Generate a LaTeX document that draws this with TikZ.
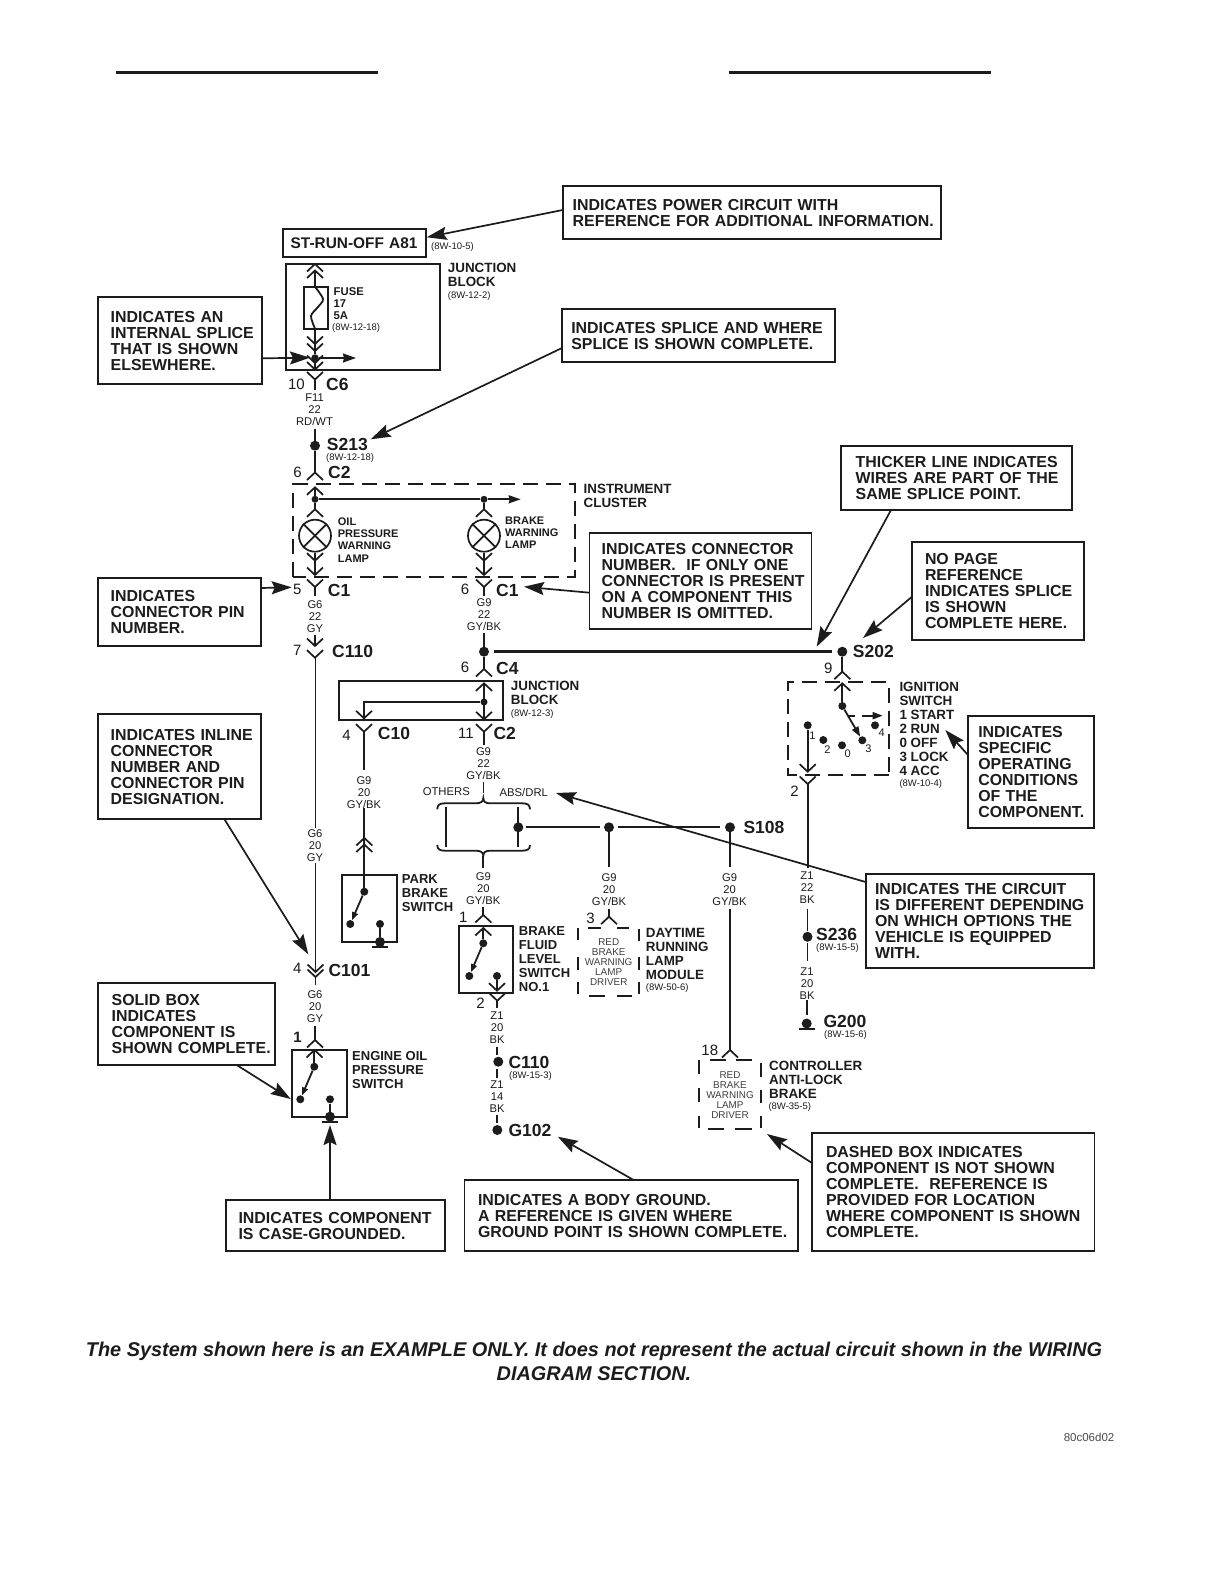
\documentclass[tikz,border=0pt]{standalone}
\usepackage{fontspec}
\setmainfont{Liberation Sans}
\usetikzlibrary{arrows.meta}
\definecolor{ink}{HTML}{1C1C1C}
\tikzset{
  calloutbox/.style={draw=ink,line width=1.7pt,inner sep=0pt,align=left,text=ink,font=\fontsize{15.9}{16}\selectfont\bfseries},
  callarrow/.style={draw=ink,line width=1.7pt,-{Stealth[length=20pt,width=13pt,inset=3pt]}},
  wire/.style={draw=ink,line width=1.8pt},
  thickwire/.style={draw=ink,line width=2.6pt},
  chev/.style={draw=ink,line width=1.7pt},
  dot/.style={circle,fill=ink,inner sep=0pt,minimum size=8pt},
  bigdot/.style={circle,fill=ink,inner sep=0pt,minimum size=10pt},
  solidbox/.style={draw=ink,line width=2pt},
  dashbox/.style={draw=ink,line width=2pt,dash pattern=on 15pt off 8pt},
  wl/.style={align=center,inner sep=0pt,text=ink,font=\fontsize{11.2}{12}\selectfont},
  innertext/.style={align=center,inner sep=0pt,text=black!75,font=\fontsize{9.9}{10}\selectfont},
  refnote/.style={anchor=west,inner sep=0pt,text=ink,font=\fontsize{9.5}{10}\selectfont},
  conn/.style={anchor=west,inner sep=0pt,text=ink,font=\fontsize{17.5}{17}\selectfont\bfseries},
  pinno/.style={anchor=east,inner sep=0pt,text=ink,font=\fontsize{15}{15}\selectfont},
  comp/.style={anchor=west,align=left,inner sep=0pt,text=ink,font=\fontsize{13.4}{14}\selectfont\bfseries},
  compsm/.style={anchor=west,align=left,inner sep=0pt,text=ink,font=\fontsize{11}{12.2}\selectfont\bfseries},
  posno/.style={inner sep=0pt,text=ink,font=\fontsize{11}{11}\selectfont},
}
% name, x1, y1, x2, y2, text-left, lines
\newcommand\callout[7]{%
  \pgfmathsetmacro\cbw{#4-#2}\pgfmathsetmacro\cbh{#5-#3}%
  \pgfmathsetmacro\cbm{#6-#2}%
  \node[calloutbox,text width=\cbw pt,minimum height=\cbh pt] (#1) at ({(#2+#4)/2},{(#3+#5)/2})
    {\noindent\hspace*{\cbm pt}\raisebox{-7pt}[0pt][0pt]{\begin{tabular}[c]{@{}l@{}}#7\end{tabular}}};}
\newcommand\chup[2]{\draw[chev] ({#1-8},{#2+7.5}) -- (#1,#2) -- ({#1+8},{#2+7.5});}
\newcommand\chdn[2]{\draw[chev] ({#1-8},{#2-7.5}) -- (#1,#2) -- ({#1+8},{#2-7.5});}
\begin{document}
\begin{tikzpicture}[x=1pt,y=-1pt]
\useasboundingbox (0,0) rectangle (1224,1584);
\fill[white] (0,0) rectangle (1224,1584);
% top rules
\coordinate (ra) at (116,72.7); \coordinate (rb) at (377.5,72.7);
\coordinate (rc) at (729,72.7); \coordinate (rd) at (991.4,72.7);
\draw[draw=ink,line width=3pt] (ra) -- (rb);
\draw[draw=ink,line width=3pt] (rc) -- (rd);

% ---------- callouts
\callout{cPower}{562.7}{186}{941}{239}{572.7}{INDICATES POWER CIRCUIT WITH\\REFERENCE FOR ADDITIONAL INFORMATION.}
\callout{cSplice}{562}{308.7}{835}{361.7}{571.3}{INDICATES SPLICE AND WHERE\\SPLICE IS SHOWN COMPLETE.}
\callout{cInternal}{98}{297.3}{262}{383.7}{110.7}{INDICATES AN\\INTERNAL SPLICE\\THAT IS SHOWN\\ELSEWHERE.}
\callout{cThick}{840.7}{445.7}{1072}{510}{855.7}{THICKER LINE INDICATES\\WIRES ARE PART OF THE\\SAME SPLICE POINT.}
\callout{cConn}{589.5}{533}{811.6}{629}{601.7}{INDICATES CONNECTOR\\NUMBER.\ \ IF ONLY ONE\\CONNECTOR IS PRESENT\\ON A COMPONENT THIS\\NUMBER IS OMITTED.}
\callout{cNoPage}{912}{542}{1083.7}{639.7}{925}{NO PAGE\\REFERENCE\\INDICATES SPLICE\\IS SHOWN\\COMPLETE HERE.}
\callout{cPin}{98}{578}{260.7}{646}{110.7}{INDICATES\\CONNECTOR PIN\\NUMBER.}
\callout{cInline}{98}{714}{260.7}{819}{110.7}{INDICATES INLINE\\CONNECTOR\\NUMBER AND\\CONNECTOR PIN\\DESIGNATION.}
\callout{cSpecific}{968}{715.7}{1094}{828}{978.3}{INDICATES\\SPECIFIC\\OPERATING\\CONDITIONS\\OF THE\\COMPONENT.}
\callout{cCircuit}{865.7}{874}{1094}{968}{875}{INDICATES THE CIRCUIT\\IS DIFFERENT DEPENDING\\ON WHICH OPTIONS THE\\VEHICLE IS EQUIPPED\\WITH.}
\callout{cSolid}{98}{982.7}{275.3}{1065}{111.7}{SOLID BOX\\INDICATES\\COMPONENT IS\\SHOWN COMPLETE.}
\callout{cDashed}{812}{1133}{1094.5}{1251}{826}{DASHED BOX INDICATES\\COMPONENT IS NOT SHOWN\\COMPLETE.\ \ REFERENCE IS\\PROVIDED FOR LOCATION\\WHERE COMPONENT IS SHOWN\\COMPLETE.}
\callout{cBody}{464.5}{1180}{798}{1251}{478}{INDICATES A BODY GROUND.\\A REFERENCE IS GIVEN WHERE\\GROUND POINT IS SHOWN COMPLETE.}
\callout{cCase}{226}{1200}{445}{1251}{238.5}{INDICATES COMPONENT\\IS CASE-GROUNDED.}

% ---------- top power block
\callout{stBox}{282.7}{229.3}{425.7}{256.7}{290.7}{{\fontsize{15.4}{16}\selectfont ST-RUN-OFF A81}}
\node[refnote] (rA81) at (431,247) {(8W-10-5)};
\node[solidbox,minimum width=154.3pt,minimum height=106pt,inner sep=0pt] (jb1) at (362.85,316.5) {};
\node[comp] (jb1t) at (447.7,274.5) {JUNCTION\\BLOCK};
\node[refnote] (jb1r) at (447.7,296) {(8W-12-2)};
% fuse
\node[solidbox,line width=1.6pt,minimum width=24pt,minimum height=42pt,inner sep=0pt] (fuse) at (315.7,308) {};
\node[compsm,font=\fontsize{11.3}{12}\selectfont\bfseries] (fuset) at (333.5,304) {FUSE\\17\\5A};
\node[refnote] (fuser) at (332,328.5) {(8W-12-18)};
\draw[wire] plot[smooth] coordinates {(315.2,287) (323,299) (318,307) (311,316) (315.2,329)};
\chup{315}{264}\chup{315}{270.5}
\node[dot,minimum size=7.5pt] (spl1) at (315,358) {};
\coordinate (w1) at (315,270.5); \coordinate (w2) at (315,329);
\draw[wire] (w1) -- (fuse.north -| w1);
\draw[wire] (w2) -- (spl1);
\chdn{315}{344}\chdn{315}{351}\chdn{315}{363}\chdn{315}{369.5}
\coordinate (spl1e) at (356,358);
\coordinate (spl1b) at (315,369.5);
\draw[wire,-{Stealth[length=13pt,width=9pt,inset=1pt]}] (spl1) -- (spl1e);
\draw[wire] (spl1) -- (spl1b);
% C6
\chdn{315}{379.5}
\coordinate (c6) at (315,379.5); \coordinate (c6b) at (315,390);
\draw[wire] (c6) -- (c6b);
\node[pinno] (p10) at (305,384) {10};
\node[conn] (tC6) at (326,384) {C6};
\node[wl] (wF11) at (314.5,409.7) {F11\\22\\RD/WT};
\node[bigdot] (s213) at (315,445.7) {};
\coordinate (s213a) at (315,429);
\draw[wire] (s213a) -- (s213);
\node[conn] (tS213) at (326.7,444) {S213};
\node[refnote] (rS213) at (326,458) {(8W-12-18)};
\node[pinno] (p6a) at (302,472.7) {6};
\node[conn] (tC2) at (328,472.7) {C2};
\coordinate (c2t) at (315,472.5);
\draw[wire] (s213) -- (c2t);
\chup{315}{472.5}

% ---------- instrument cluster
\draw[dashbox] (293.3,576.7) -- (293.3,484.3) -- (575,484.3) -- (575,576.7) -- cycle;
\node[comp] (icT) at (583.5,495.5) {INSTRUMENT\\CLUSTER};
\chup{315}{487.3}
\node[dot,minimum size=7pt] (dA) at (315,499.3) {};
\node[dot,minimum size=7pt] (dB) at (484,499.3) {};
\coordinate (dBe) at (520.7,499.3); \coordinate (dAt) at (315,487.3);
\draw[wire] (dAt) -- (dA);
\draw[wire] (dA) -- (dB);
\draw[wire,-{Stealth[length=12pt,width=8pt,inset=1pt]}] (dB) -- (dBe);
\chup{315}{509.3}\chup{484}{509.3}
\coordinate (dAb) at (315,509.3); \coordinate (dBb) at (484,509.3);
\draw[wire] (dA) -- (dAb);
\draw[wire] (dB) -- (dBb);
\node[draw=ink,line width=1.7pt,circle,minimum size=32pt,inner sep=0pt] (lampA) at (315,535.7) {};
\node[draw=ink,line width=1.7pt,circle,minimum size=32pt,inner sep=0pt] (lampB) at (484,535.7) {};
\draw[wire] (lampA.north west) -- (lampA.south east);
\draw[wire] (lampA.north east) -- (lampA.south west);
\draw[wire] (lampB.north west) -- (lampB.south east);
\draw[wire] (lampB.north east) -- (lampB.south west);
\node[compsm] (tOil) at (337.7,540) {OIL\\PRESSURE\\WARNING\\LAMP};
\node[compsm] (tBrk) at (505,533) {BRAKE\\WARNING\\LAMP};
\coordinate (lAo) at (315,575); \coordinate (lBo) at (484,575);
\draw[wire] (lampA.south) -- (lAo);
\draw[wire] (lampB.south) -- (lBo);
\chdn{315}{560.7}\chdn{315}{575}\chdn{484}{560.7}\chdn{484}{575}
% C1s
\chdn{315}{587}\chdn{484}{587}
\coordinate (c1a) at (315,587); \coordinate (c1ab) at (315,596);
\coordinate (c1b) at (484,587); \coordinate (c1bb) at (484,596);
\draw[wire] (c1a) -- (c1ab);
\draw[wire] (c1b) -- (c1bb);
\node[pinno] (p5) at (301.7,589.3) {5};
\node[conn] (tC1a) at (327.7,590) {C1};
\node[pinno] (p6b) at (469.3,589.3) {6};
\node[conn] (tC1b) at (496,590) {C1};
\node[wl] (wG6a) at (315,617) {G6\\22\\GY};
\node[wl] (wG9a) at (484,614.7) {G9\\22\\GY/BK};
% C110
\chdn{315}{646}\chdn{315}{657.7}
\coordinate (c110a) at (315,635); \coordinate (c110b) at (315,646);
\draw[wire] (c110a) -- (c110b);
\node[pinno] (p7) at (301.7,650) {7};
\node[conn] (tC110a) at (332,651) {C110};
\coordinate (c110c) at (315.5,657.7); \coordinate (c110d) at (315.5,828);
\draw[wire] (c110c) -- (c110d);
\node[wl] (wG6b) at (315,845.7) {G6\\20\\GY};
\coordinate (c101a) at (315.5,863); \coordinate (c101b) at (315.5,972);
\draw[wire] (c101a) -- (c101b);
\chdn{315.5}{972}\chdn{315.5}{977}
\coordinate (c101c) at (315.5,977); \coordinate (c101d) at (315.5,985);
\draw[wire] (c101c) -- (c101d);
\node[pinno] (p4a) at (301.7,968) {4};
\node[conn] (tC101) at (328.3,970) {C101};
\node[wl] (wG6c) at (315,1006.7) {G6\\20\\GY};
\coordinate (e1a) at (315,1025.7); \coordinate (e1b) at (315,1040);
\draw[wire] (e1a) -- (e1b);
\chup{315}{1040}
\node[pinno,font=\fontsize{15}{15}\selectfont\bfseries] (p1a) at (302,1037) {1};

% engine oil pressure switch
\node[solidbox,minimum width=54.7pt,minimum height=66.7pt,inner sep=0pt] (eops) at (319.65,1083.35) {};
\chup{314.5}{1050}
\node[dot] (eA) at (314.3,1066.7) {};
\node[dot] (eB) at (300.3,1099.3) {};
\node[dot] (eC) at (330,1099.3) {};
\node[bigdot] (eG) at (330,1116.7) {};
\coordinate (eT) at (314.3,1050);
\coordinate (eL) at (321.7,1122); \coordinate (eR) at (337.7,1122);
\draw[wire] (eT) -- (eA);
\draw[wire,-{Stealth[length=8pt,width=6pt,inset=0pt]}] (eA) -- (eB);
\draw[wire] (eC) -- (eG);
\draw[draw=ink,line width=2.4pt] (eL) -- (eR);
\node[comp,font=\fontsize{13}{14}\selectfont\bfseries] (tEops) at (352,1069.7) {ENGINE OIL\\PRESSURE\\SWITCH};

% ---------- centre trunk
\node[bigdot] (nA) at (484,651.7) {};
\coordinate (nAa) at (484,633);
\draw[wire] (nAa) -- (nA);
\node[bigdot] (s202) at (842.3,651.7) {};
\coordinate (tkA) at (493.5,651.7); \coordinate (tkB) at (831.7,651.7);
\draw[thickwire] (tkA) -- (tkB);
\node[conn] (tS202) at (852.7,651.7) {S202};
\coordinate (c4) at (484,669);
\draw[wire] (nA) -- (c4);
\chup{484}{669}
\node[pinno] (p6c) at (469.3,667.7) {6};
\node[conn] (tC4) at (496,668) {C4};
% junction block 2
\node[solidbox,minimum width=164pt,minimum height=38.7pt,inner sep=0pt] (jb2) at (421.3,700.65) {};
\node[comp] (jb2t) at (510.7,692.5) {JUNCTION\\BLOCK};
\node[refnote] (jb2r) at (510.7,714.3) {(8W-12-3)};
\chup{484}{683.3}
\node[dot,minimum size=7pt] (jD) at (484,702) {};
\coordinate (jT) at (484,683.3); \coordinate (jB) at (484,719.3);
\coordinate (jL) at (364,702); \coordinate (jE) at (364,718.3);
\draw[wire] (jT) -- (jB);
\draw[draw=ink,line width=2.2pt] (jD) -- (jL) -- (jE);
\chdn{484}{719.3}\chdn{364}{718.3}
\chdn{364}{731.7}\chdn{484}{731.7}
\coordinate (c10a) at (364,731.7); \coordinate (c10b) at (364,770);
\coordinate (c2a) at (484,731.7); \coordinate (c2b) at (484,745);
\draw[wire] (c10a) -- (c10b);
\draw[wire] (c2a) -- (c2b);
\node[pinno] (p4b) at (351,735) {4};
\node[conn] (tC10) at (377.7,733.7) {C10};
\node[pinno] (p11) at (474,733.7) {11};
\node[conn] (tC2b) at (493.3,733.7) {C2};
\node[wl] (wG9b) at (483.5,763.7) {G9\\22\\GY/BK};
\node[wl] (wG9park) at (364,792.5) {G9\\20\\GY/BK};
% park brake
\coordinate (pkA) at (364.3,808); \coordinate (pkB) at (364.3,845);
\draw[wire] (pkA) -- (pkB);
\chup{364.3}{838}\chup{364.3}{844.5}
\node[solidbox,minimum width=54.7pt,minimum height=67.3pt,inner sep=0pt] (park) at (369.35,908.35) {};
\node[dot] (pA) at (364.3,891.7) {};
\node[dot] (pB) at (350.3,924) {};
\node[dot] (pC) at (380,924) {};
\node[bigdot] (pG) at (380,942) {};
\coordinate (pL) at (372,947); \coordinate (pR) at (388,947);
\draw[wire] (pkB) -- (pA);
\draw[wire,-{Stealth[length=8pt,width=6pt,inset=0pt]}] (pA) -- (pB);
\draw[wire] (pC) -- (pG);
\draw[draw=ink,line width=2.4pt] (pL) -- (pR);
\node[comp,font=\fontsize{13}{14}\selectfont\bfseries] (tPark) at (401.7,893.3) {PARK\\BRAKE\\SWITCH};

% options braces
\node[wl,font=\fontsize{11.3}{12}\selectfont] (tOthers) at (446.3,792) {OTHERS};
\node[wl,font=\fontsize{11.3}{12}\selectfont] (tAbs) at (523.8,792) {ABS/DRL};
\coordinate (brT) at (483.5,781.7); \coordinate (brTb) at (483.5,793.3);
\draw[wire] (brT) -- (brTb);
\draw[draw=ink,line width=1.8pt] (437.3,809.3) .. controls (437.3,804.5) and (440,803.3) .. (445,803.3) -- (476,803.3) .. controls (480,803.3) and (483.3,802) .. (483.3,798) .. controls (483.3,802) and (486,803.3) .. (490,803.3) -- (522,803.3) .. controls (527,803.3) and (530,804.5) .. (530,809.3);
\draw[draw=ink,line width=1.8pt] (437.3,845) .. controls (437.3,849.5) and (440,850.7) .. (445,850.7) -- (476,850.7) .. controls (480,850.7) and (483.3,852) .. (483.3,855.7) .. controls (483.3,852) and (486,850.7) .. (490,850.7) -- (522,850.7) .. controls (527,850.7) and (530,849.5) .. (530,845);
\coordinate (bLa) at (445.7,806.7); \coordinate (bLb) at (445.7,847.3);
\coordinate (bRa) at (518.3,806.7); \coordinate (bRb) at (518.3,847.3);
\draw[draw=ink,line width=2.4pt] (bLa) -- (bLb);
\draw[wire] (bRa) -- (bRb);
\node[bigdot] (bD) at (518.3,827.3) {};
\node[bigdot] (dDr) at (609,827.3) {};
\node[bigdot] (s108) at (730,827.3) {};
\coordinate (hA) at (526,827.3); \coordinate (hB) at (600,827.3);
\coordinate (hC) at (618.3,827.3); \coordinate (hD) at (720,827.3);
\draw[draw=ink,line width=2.2pt] (hA) -- (hB);
\draw[draw=ink,line width=2.2pt] (hC) -- (hD);
\node[conn] (tS108) at (743.3,827) {S108};

% brake fluid branch
\coordinate (lA) at (483.3,855.7); \coordinate (lB) at (483.3,868.3);
\draw[wire] (lA) -- (lB);
\node[wl] (wG9c) at (483.3,888.5) {G9\\20\\GY/BK};
\coordinate (lC) at (483.3,906.7); \coordinate (lD) at (483.3,915);
\draw[wire] (lC) -- (lD);
\chup{483.3}{915}
\node[pinno] (p1b) at (467.7,917.7) {1};
\node[solidbox,minimum width=53.4pt,minimum height=67.3pt,inner sep=0pt] (bfl) at (486,959.65) {};
\chup{483.3}{928}
\node[dot] (fA) at (483.3,943.3) {};
\node[dot] (fB) at (469.3,976) {};
\node[dot] (fC) at (497,976) {};
\coordinate (fT) at (483.3,928); \coordinate (fE) at (497,990.7);
\draw[wire] (fT) -- (fA);
\draw[wire,-{Stealth[length=8pt,width=6pt,inset=0pt]}] (fA) -- (fB);
\draw[wire] (fC) -- (fE);
\chdn{497}{990.7}
\node[comp,font=\fontsize{13}{14}\selectfont\bfseries] (tBfl) at (518.7,959) {BRAKE\\FLUID\\LEVEL\\SWITCH\\NO.1};
\chdn{497.3}{1000.7}
\coordinate (gA) at (497.3,1000.7); \coordinate (gB) at (497.3,1008);
\draw[wire] (gA) -- (gB);
\node[pinno] (p2b) at (485,1003.3) {2};
\node[wl] (wZ1a) at (497,1027.5) {Z1\\20\\BK};
\node[bigdot] (c110dot) at (498.3,1061.7) {};
\coordinate (gC) at (497.3,1046.7); \coordinate (gD) at (497.3,1055);
\draw[wire] (gC) -- (gD);
\node[conn] (tC110b) at (508.3,1062.7) {C110};
\node[refnote] (rC110) at (509,1075.7) {(8W-15-3)};
\coordinate (gE) at (497.3,1069); \coordinate (gF) at (497.3,1078);
\draw[wire] (gE) -- (gF);
\node[wl] (wZ1b) at (497,1096.7) {Z1\\14\\BK};
\coordinate (gG) at (497.3,1115); \coordinate (gH) at (497.3,1123);
\draw[wire] (gG) -- (gH);
\node[bigdot] (g102) at (497.3,1130) {};
\node[conn] (tG102) at (508.3,1130) {G102};

% daytime running lamp module
\coordinate (mA) at (609,832); \coordinate (mB) at (609,866.7);
\draw[draw=ink,line width=2pt] (mA) -- (mB);
\node[wl] (wG9d) at (609,889.3) {G9\\20\\GY/BK};
\coordinate (mC) at (609,909.3); \coordinate (mD) at (609,916.7);
\draw[wire] (mC) -- (mD);
\chup{609}{916.7}
\node[pinno] (p3) at (595,918) {3};
\draw[draw=ink,line width=2pt]
  (578.3,928) -- (578.3,940) (578.3,957) -- (578.3,970) (578.3,982) -- (578.3,994)
  (638.7,929) -- (638.7,941) (638.7,957) -- (638.7,970) (638.7,982) -- (638.7,994)
  (588,927.7) -- (601,927.7) (617,927.7) -- (629,927.7)
  (589,996) -- (605,996) (616.7,996) -- (631.7,996);
\node[innertext] (tRed1) at (608.7,962) {RED\\BRAKE\\WARNING\\LAMP\\DRIVER};
\node[comp,font=\fontsize{13.4}{14}\selectfont\bfseries] (tDrl) at (645.7,953.5) {DAYTIME\\RUNNING\\LAMP\\MODULE};
\node[refnote] (rDrl) at (645.7,988.3) {(8W-50-6)};

% ABS controller
\coordinate (cA) at (730,832); \coordinate (cB) at (730,866.7);
\draw[wire] (cA) -- (cB);
\node[wl] (wG9e) at (729.5,889.3) {G9\\20\\GY/BK};
\coordinate (cC) at (730,909.3); \coordinate (cD) at (730,1050);
\draw[wire] (cC) -- (cD);
\chup{730}{1050}
\node[pinno] (p18) at (718.3,1050) {18};
\draw[draw=ink,line width=2pt]
  (699.3,1060) -- (699.3,1074) (699.3,1088) -- (699.3,1102) (699.3,1116) -- (699.3,1128)
  (761,1063) -- (761,1077) (761,1090) -- (761,1103) (761,1116) -- (761,1128)
  (710,1060.3) -- (726,1060.3) (736,1060.3) -- (751.7,1060.3)
  (708,1129.3) -- (724,1129.3) (735,1129.3) -- (751.7,1129.3);
\node[innertext] (tRed2) at (730,1095) {RED\\BRAKE\\WARNING\\LAMP\\DRIVER};
\node[comp] (tCtl) at (769,1079.5) {CONTROLLER\\ANTI-LOCK\\BRAKE};
\node[refnote] (rCtl) at (768.3,1107) {(8W-35-5)};

% ---------- ignition switch
\coordinate (iA) at (842.3,657); \coordinate (iB) at (842.3,671.7);
\draw[wire] (iA) -- (iB);
\chup{842.3}{671.7}
\node[pinno] (p9) at (832.7,668.3) {9};
\draw[dashbox] (888.7,774.7) -- (788.3,774.7) -- (788.3,682) -- (888.7,682) -- cycle;
\chup{842.3}{683.3}
\node[dot] (iTop) at (842.3,706) {};
\node[dot] (i3) at (862.3,740.3) {};
\node[dot] (i4) at (875,725.3) {};
\node[dot] (i1) at (807.7,725.3) {};
\node[dot] (i2) at (823.3,740) {};
\node[dot] (i0) at (842,745.3) {};
\coordinate (iT) at (842.3,683.3);
\draw[wire] (iT) -- (iTop);
\draw[wire,-{Stealth[length=10pt,width=7pt,inset=0pt]}] (iTop) -- (i3);
\coordinate (iDa) at (848,715.7); \coordinate (iDb) at (855,715.7);
\coordinate (iDc) at (861.7,715.7); \coordinate (iDd) at (882.7,715.7);
\draw[wire] (iDa) -- (iDb);
\draw[wire,-{Stealth[length=10pt,width=7pt,inset=0pt]}] (iDc) -- (iDd);
\node[posno] (n4) at (881.7,732.7) {4};
\node[posno] (n1) at (812.3,735.3) {1};
\node[posno] (n2) at (827.3,750) {2};
\node[posno] (n0) at (847.7,754) {0};
\node[posno] (n3) at (868.3,749) {3};
\coordinate (iS) at (807.7,771.7);
\draw[wire] (i1) -- (iS);
\chdn{807.7}{771.7}
\chdn{807.7}{784}
\node[pinno] (p2a) at (799,791) {2};
\coordinate (iU) at (807.7,784); \coordinate (iV) at (807.7,868);
\draw[wire] (iU) -- (iV);
\node[comp] (tIgn) at (899.3,728.9) {IGNITION\\SWITCH\\1 START\\2 RUN\\0 OFF\\3 LOCK\\4 ACC};
\node[refnote] (rIgn) at (899.3,784.3) {(8W-10-4)};
\node[wl] (wZ1c) at (807,888) {Z1\\22\\BK};
\coordinate (zA) at (807.5,908.5); \coordinate (zB) at (807.5,931);
\draw[wire] (zA) -- (zB);
\node[bigdot] (s236) at (807.5,936.8) {};
\node[conn] (tS236) at (816,934) {S236};
\node[refnote] (rS236) at (816,948) {(8W-15-5)};
\coordinate (zC) at (807.5,943); \coordinate (zD) at (807.5,961);
\draw[wire] (zC) -- (zD);
\node[wl] (wZ1d) at (807,984) {Z1\\20\\BK};
\coordinate (zE) at (807.3,1000); \coordinate (zF) at (807.3,1015);
\draw[wire] (zE) -- (zF);
\node[bigdot] (g200) at (806.7,1023.5) {};
\coordinate (gL) at (799.3,1028.7); \coordinate (gR) at (815,1028.7);
\draw[draw=ink,line width=2.4pt] (gL) -- (gR);
\node[conn] (tG200) at (823.3,1021.7) {G200};
\node[refnote] (rG200) at (824,1035) {(8W-15-6)};

% ---------- callout arrows
\coordinate (a1) at (562.7,210);  \coordinate (a1t) at (426.7,237.3);
\coordinate (a2) at (562,348);    \coordinate (a2t) at (370.7,439.3);
\coordinate (a3) at (262,358.3);  \coordinate (a3t) at (310,357.7);
\coordinate (a4) at (891,510);    \coordinate (a4t) at (816.7,646.7);
\coordinate (a5) at (912,596.7);  \coordinate (a5t) at (863,638);
\coordinate (a6) at (589.5,592.7);\coordinate (a6t) at (524,586.7);
\coordinate (a7) at (260.7,588);  \coordinate (a7t) at (291.7,587.3);
\coordinate (a8) at (224.3,819);  \coordinate (a8t) at (308.3,954.3);
\coordinate (a9) at (968,755);    \coordinate (a9t) at (945.3,730);
\coordinate (a10) at (865.7,882); \coordinate (a10t) at (556,793);
\coordinate (a11) at (236.7,1065);\coordinate (a11t) at (290.7,1099);
\coordinate (a12) at (812,1163);  \coordinate (a12t) at (767,1134);
\coordinate (a13) at (633.6,1180);\coordinate (a13t) at (557.8,1136.7);
\coordinate (a14) at (330,1200);  \coordinate (a14t) at (330,1125);
\foreach \s/\t in {a1/a1t,a2/a2t,a3/a3t,a4/a4t,a5/a5t,a6/a6t,a7/a7t,a8/a8t,a9/a9t,a10/a10t,a11/a11t,a12/a12t,a13/a13t,a14/a14t}
  \draw[callarrow] (\s) -- (\t);

% ---------- footer
\node[align=center,inner sep=0pt,text=ink,font=\fontsize{19.9}{23.5}\selectfont\bfseries\itshape] (foot) at (594,1361.5)
 {The System shown here is an EXAMPLE ONLY. It does not represent the actual circuit shown in the WIRING\\DIAGRAM SECTION.};
\node[anchor=east,inner sep=0pt,text=black!70,font=\fontsize{11.5}{12}\selectfont] (code) at (1114.5,1437.5) {80c06d02};
\end{tikzpicture}
\end{document}
